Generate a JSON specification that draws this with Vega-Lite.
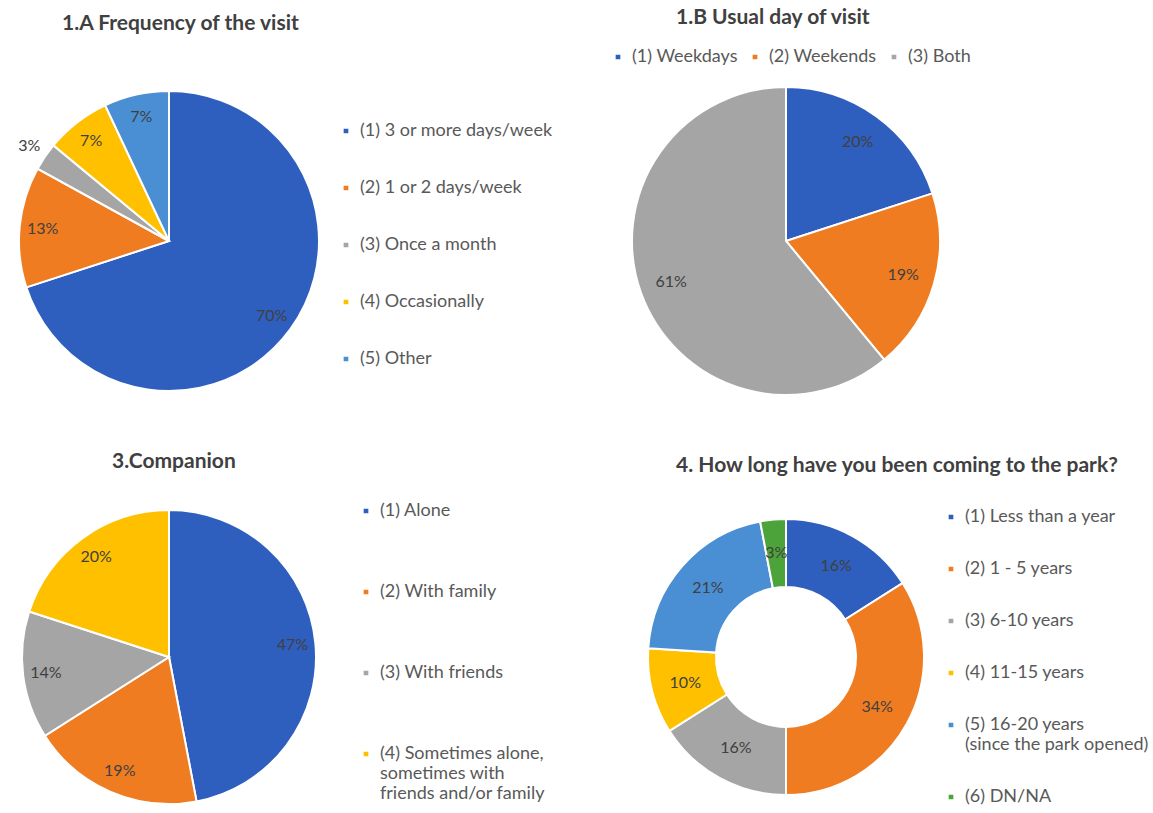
{
  "$schema": "https://vega.github.io/schema/vega-lite/v6.json",
  "background": "white",
  "padding": {"left": 0, "top": 7, "right": 0, "bottom": 0},
  "columns": 2,
  "spacing": {"row": 84, "column": 285},
  "bounds": "flush",
  "resolve": {"scale": {"color": "independent", "theta": "independent"}, "legend": {"color": "independent"}},
  "config": {
    "font": "Lato",
    "view": {"stroke": null},
    "title": {"fontSize": 21, "fontWeight": "bold", "color": "#404040", "anchor": "start", "frame": "group"},
    "legend": {"labelFontSize": 18, "labelColor": "#595959", "symbolType": "square", "symbolSize": 45, "symbolStrokeWidth": 0, "padding": 0, "labelOffset": 5, "orient": "none", "labelLimit": 400},
    "arc": {"stroke": "white", "strokeWidth": 2},
    "text": {"fontSize": 16, "color": "#404040"}
  },
  "concat": [
    {
      "width": 332, "height": 332,
      "title": {"text": "1.A  Frequency of the visit", "dx": 59, "offset": 34},
      "data": {"values": [
        {"cat": "(1)  3 or more days/week", "value": 0.70, "k": 1},
        {"cat": "(2) 1 or 2 days/week", "value": 0.13, "k": 2},
        {"cat": "(3) Once a month", "value": 0.03, "k": 3},
        {"cat": "(4) Occasionally", "value": 0.07, "k": 4},
        {"cat": "(5) Other", "value": 0.07, "k": 5}
      ]},
      "encoding": {
        "theta": {"field": "value", "type": "quantitative", "stack": true},
        "order": {"field": "k", "type": "quantitative"}
      },
      "layer": [
        {"mark": {"type": "arc", "outerRadius": 150},
         "encoding": {"color": {"field": "cat", "type": "nominal",
           "scale": {"domain": ["(1)  3 or more days/week", "(2) 1 or 2 days/week", "(3) Once a month", "(4) Occasionally", "(5) Other"],
                     "range": ["#2E5FBE", "#EF7C21", "#A5A5A5", "#FFC000", "#4A8FD4"]},
           "legend": {"title": null, "legendX": 334, "legendY": 47, "rowPadding": 39}}}},
        {"mark": {"type": "text", "radius": 127},
         "encoding": {"text": {"condition": {"test": "datum.value < 0.05", "value": ""}, "field": "value", "type": "quantitative", "format": ".0%"}}},
        {"mark": {"type": "text", "radius": 169},
         "encoding": {"text": {"condition": {"test": "datum.value >= 0.05", "value": ""}, "field": "value", "type": "quantitative", "format": ".0%"}}}
      ]
    },
    {
      "width": 332, "height": 332,
      "title": {"text": "1.B  Usual day of visit", "dx": 56, "offset": 20},
      "data": {"values": [
        {"cat": "(1) Weekdays", "value": 0.20, "k": 1},
        {"cat": "(2) Weekends", "value": 0.19, "k": 2},
        {"cat": "(3) Both", "value": 0.61, "k": 3}
      ]},
      "encoding": {
        "theta": {"field": "value", "type": "quantitative", "stack": true},
        "order": {"field": "k", "type": "quantitative"}
      },
      "layer": [
        {"mark": {"type": "arc", "outerRadius": 154},
         "encoding": {"color": {"field": "cat", "type": "nominal",
           "scale": {"domain": ["(1) Weekdays", "(2) Weekends", "(3) Both"],
                     "range": ["#2E5FBE", "#EF7C21", "#A5A5A5"]},
           "legend": {"title": null, "direction": "horizontal", "legendX": -11, "legendY": -27, "columnPadding": 8}}}},
        {"mark": {"type": "text", "radius": 122},
         "encoding": {"text": {"field": "value", "type": "quantitative", "format": ".0%"}}}
      ]
    },
    {
      "width": 332, "height": 332,
      "title": {"text": "3.Companion", "dx": 109, "offset": 19},
      "data": {"values": [
        {"cat": "(1) Alone", "value": 0.47, "k": 1},
        {"cat": "(2) With family", "value": 0.19, "k": 2},
        {"cat": "(3) With friends", "value": 0.14, "k": 3},
        {"cat": "(4) Sometimes alone, sometimes with friends and/or family", "value": 0.20, "k": 4}
      ]},
      "encoding": {
        "theta": {"field": "value", "type": "quantitative", "stack": true},
        "order": {"field": "k", "type": "quantitative"}
      },
      "layer": [
        {"mark": {"type": "arc", "outerRadius": 147},
         "encoding": {"color": {"field": "cat", "type": "nominal",
           "scale": {"domain": ["(1) Alone", "(2) With family", "(3) With friends", "(4) Sometimes alone, sometimes with friends and/or family"],
                     "range": ["#2E5FBE", "#EF7C21", "#A5A5A5", "#FFC000"]},
           "legend": {"title": null, "legendX": 354, "legendY": 11, "rowPadding": 63,
             "labelExpr": "indexof(datum.label, 'Sometimes') >= 0 ? ['(4) Sometimes alone,', 'sometimes with', 'friends and/or family'] : datum.label",
             "encode": {"labels": {"lineHeight": {"value": 24}}}}}}},
        {"mark": {"type": "text", "radius": 124},
         "encoding": {"text": {"field": "value", "type": "quantitative", "format": ".0%"}}}
      ]
    },
    {
      "width": 332, "height": 332,
      "title": {"text": "4. How long have you been coming to the park?", "dx": 56, "offset": 15},
      "data": {"values": [
        {"cat": "(1) Less than a year", "value": 0.16, "k": 1},
        {"cat": "(2) 1 - 5 years", "value": 0.34, "k": 2},
        {"cat": "(3) 6-10 years", "value": 0.16, "k": 3},
        {"cat": "(4) 11-15 years", "value": 0.10, "k": 4},
        {"cat": "(5) 16-20 years (since the park opened)", "value": 0.21, "k": 5},
        {"cat": "(6) DN/NA", "value": 0.03, "k": 6}
      ]},
      "encoding": {
        "theta": {"field": "value", "type": "quantitative", "stack": true},
        "order": {"field": "k", "type": "quantitative"}
      },
      "layer": [
        {"mark": {"type": "arc", "outerRadius": 138, "innerRadius": 70},
         "encoding": {"color": {"field": "cat", "type": "nominal",
           "scale": {"domain": ["(1) Less than a year", "(2) 1 - 5 years", "(3) 6-10 years", "(4) 11-15 years", "(5) 16-20 years (since the park opened)", "(6) DN/NA"],
                     "range": ["#2E5FBE", "#EF7C21", "#A5A5A5", "#FFC000", "#4A8FD4", "#4CA33A"]},
           "legend": {"title": null, "legendX": 322, "legendY": 17, "rowPadding": 34,
             "labelExpr": "indexof(datum.label, 'since') >= 0 ? ['(5) 16-20 years', '(since the park opened)'] : datum.label"}}}},
        {"mark": {"type": "text", "radius": 104},
         "encoding": {"text": {"field": "value", "type": "quantitative", "format": ".0%"}}}
      ]
    }
  ]
}
